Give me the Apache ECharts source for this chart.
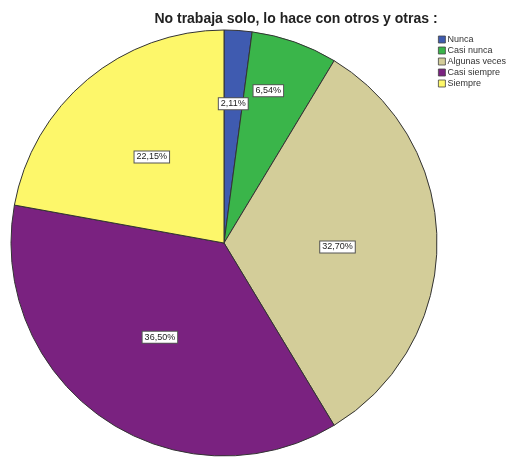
<!DOCTYPE html>
<html><head><meta charset="utf-8">
<script src="https://cdn.jsdelivr.net/npm/echarts@6/dist/echarts.min.js"></script>
<style>html,body{margin:0;padding:0;background:#fff}#c{width:520px;height:457px}</style>
</head><body><div id="c"></div>
<script>
const categories = ['Nunca', 'Casi nunca', 'Algunas veces', 'Casi siempre', 'Siempre'];
const percentages = [2.11, 6.54, 32.70, 36.50, 22.15];
const colors = ['#3f5bb0', '#3ab54a', '#d3cd99', '#7a2280', '#fdf76a'];
const labelOffsets = [[2, -30], [8, -49], [4, 4], [-2, 4], [-2, -2]];

const chart = echarts.init(document.getElementById('c'));
chart.setOption({
  animation: false,
  title: {
    text: 'No trabaja solo, lo hace con otros y otras :',
    left: 291, top: 7, textAlign: 'center',
    textStyle: {fontFamily: 'Liberation Sans, Arial', fontWeight: 'bold', fontSize: 14, color: '#222'}
  },
  legend: {
    orient: 'vertical', left: 433, top: 30,
    itemWidth: 7, itemHeight: 7, itemGap: 2,
    icon: 'rect',
    textStyle: {fontFamily: 'Liberation Sans, Arial', fontSize: 9, color: '#333', padding: [0,0,0,-3]},
    data: categories,
    itemStyle: {borderColor: '#444', borderWidth: 0.8}
  },
  series: [{
    type: 'pie',
    center: [224, 243],
    radius: 213,
    startAngle: 90,
    clockwise: true,
    itemStyle: {borderColor: '#333', borderWidth: 1},
    label: {
      position: 'inside',
      formatter: p => p.value.toFixed(2).replace('.', ',') + '%',
      fontFamily: 'Liberation Sans, Arial', fontSize: 9, color: '#222',
      backgroundColor: '#fff', borderColor: '#555', borderWidth: 1,
      padding: [1, 2]
    },
    labelLine: {show: false},
    emphasis: {disabled: true},
    data: categories.map((n, i) => ({
      name: n, value: percentages[i],
      itemStyle: {color: colors[i]},
      label: {offset: labelOffsets[i]}
    }))
  }]
});
</script></body></html>
